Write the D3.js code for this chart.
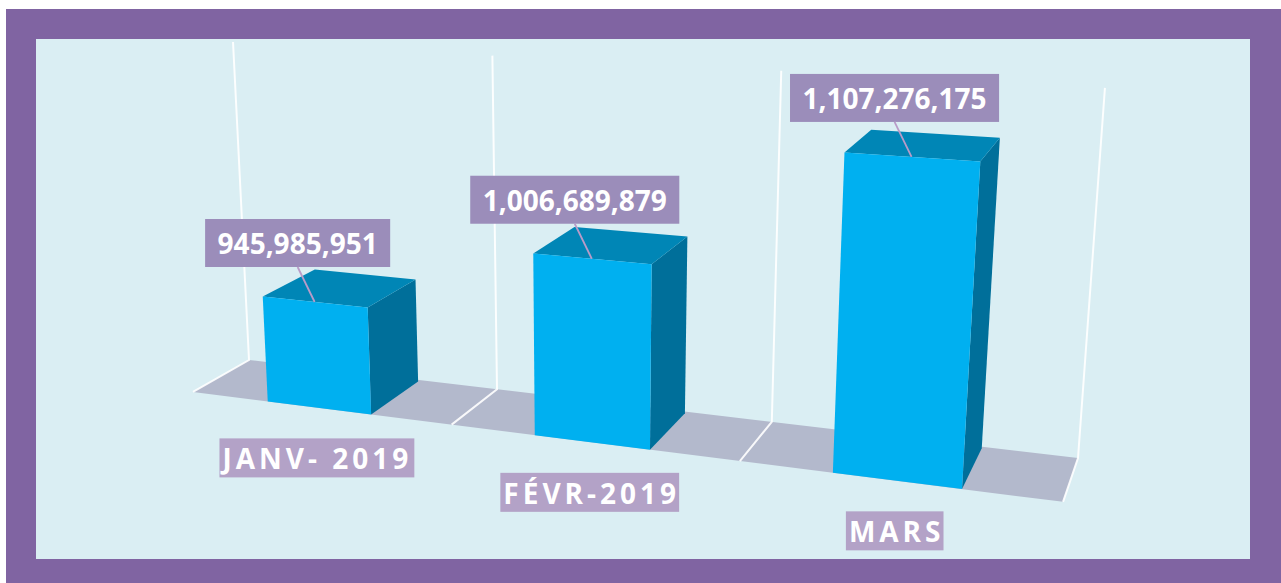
<!DOCTYPE html>
<html lang="fr">
<head>
    <meta charset="UTF-8">
    <title>Chart</title>
    <script src="https://cdn.jsdelivr.net/npm/d3@7"></script>
    <style>
        body { margin: 0; background: #fff; }
    </style>
</head>
<body>
<script>
    // data
    var categories = ['JANV- 2019', 'FÉVR-2019', 'MARS'];
    var values = [945985951, 1006689879, 1107276175];
    var axisRange = [850000000, 1150000000];

    var width = 1281, height = 583;

    var svg = d3.select('body').append('svg')
            .attr('width', width)
            .attr('height', height);

    // frame
    svg.append('rect').attr('x', 6).attr('y', 9).attr('width', width - 6).attr('height', height - 9)
            .attr('fill', '#8064A2');
    svg.append('rect').attr('x', 36).attr('y', 39).attr('width', 1214).attr('height', 520)
            .attr('fill', '#DAEEF3');

    // world: x = category slots, y = value (0..1), z = depth (0 back, 1 front)
    var xScale = d3.scaleBand().domain(categories).range([0, categories.length])
            .paddingInner(0.6).paddingOuter(0.3);
    var yScale = d3.scaleLinear().domain(axisRange).range([0, 1]);
    var zBack = 0.04, zFront = 1;

    // perspective camera (projective 3x4)
    var cam = {
        u: [249, 223.76, -26.4, -65.6],
        v: [360, 10.33, -319.9, 12.5],
        w: [1, -0.04877, -0.0447, -0.0497]
    };
    function project(x, y, z) {
        var w = cam.w[0] + cam.w[1] * x + cam.w[2] * y + cam.w[3] * z;
        return [(cam.u[0] + cam.u[1] * x + cam.u[2] * y + cam.u[3] * z) / w,
                (cam.v[0] + cam.v[1] * x + cam.v[2] * y + cam.v[3] * z) / w];
    }
    function poly(pts) {
        return 'M' + pts.map(function (p) { return project(p[0], p[1], p[2]).join(','); }).join('L') + 'Z';
    }

    var n = categories.length;

    // floor
    svg.append('path')
            .attr('d', poly([[0, 0, 0], [n, 0, 0], [n, 0, 1], [0, 0, 1]]))
            .attr('fill', '#B3B9CC');

    // category gridlines (back wall + floor)
    var grid = svg.append('g').attr('stroke', '#fff').attr('stroke-width', 2).attr('fill', 'none');
    d3.range(n + 1).forEach(function (i) {
        var a = project(i, 0, 0), b = project(i, 1, 0), c = project(i, 0, 1);
        grid.append('path').attr('d', 'M' + b + 'L' + a + 'L' + c).attr('stroke-opacity', 0.9);
    });

    // bars
    var bars = svg.selectAll('g.bar')
            .data(values)
            .enter()
            .append('g')
            .attr('class', 'bar');

    bars.each(function (d, i) {
        var g = d3.select(this);
        var x0 = xScale(categories[i]), x1 = x0 + xScale.bandwidth();
        var h = yScale(d);
        g.append('path').attr('fill', '#006F9A')
                .attr('d', poly([[x1, 0, zFront], [x1, 0, zBack], [x1, h, zBack], [x1, h, zFront]]));
        g.append('path').attr('fill', '#0086B6')
                .attr('d', poly([[x0, h, zFront], [x1, h, zFront], [x1, h, zBack], [x0, h, zBack]]));
        g.append('path').attr('fill', '#00B0F0')
                .attr('d', poly([[x0, 0, zFront], [x1, 0, zFront], [x1, h, zFront], [x0, h, zFront]]));
    });

    // value labels
    var fmt = d3.format(',');
    values.forEach(function (d, i) {
        var xc = xScale(categories[i]) + xScale.bandwidth() / 2;
        var a = project(xc, yScale(d), zFront);
        var g = svg.append('g');
        var t = g.append('text')
                .attr('font-family', 'Open Sans, sans-serif')
                .attr('font-weight', 'bold')
                .attr('font-size', 28)
                .attr('fill', '#fff')
                .attr('text-anchor', 'middle')
                .text(fmt(d));
        var tw = t.node().getComputedTextLength();
        var cx = a[0] - 17, bottom = a[1] - 35;
        var bw = tw + 25, bh = 48;
        g.insert('rect', 'text')
                .attr('x', cx - bw / 2).attr('y', bottom - bh)
                .attr('width', bw).attr('height', bh)
                .attr('fill', '#9B8DBA');
        t.attr('x', cx).attr('y', bottom - bh + 35);
        svg.append('line')
                .attr('x1', cx).attr('y1', bottom)
                .attr('x2', a[0]).attr('y2', a[1])
                .attr('stroke', '#B99BC8').attr('stroke-width', 1.8);
    });

    // category labels
    categories.forEach(function (c, i) {
        var xc = xScale(c) + xScale.bandwidth() / 2;
        var a = project(xc, 0, zFront);
        var cx = a[0] - 2, cy = a[1] + 50;
        var g = svg.append('g');
        var t = g.append('text')
                .attr('font-family', 'Open Sans, sans-serif')
                .attr('font-weight', 'bold')
                .attr('font-size', 28)
                .attr('letter-spacing', 4)
                .attr('fill', '#fff')
                .text(c);
        var tw = t.node().getBBox().width;
        var bw = tw + 2, bh = 39;
        g.insert('rect', 'text')
                .attr('x', cx - bw / 2).attr('y', cy - bh / 2)
                .attr('width', bw).attr('height', bh)
                .attr('fill', '#B3A2C7');
        t.attr('x', cx - bw / 2 + 3).attr('y', cy - bh / 2 + 31);
    });
</script>
</body>
</html>
